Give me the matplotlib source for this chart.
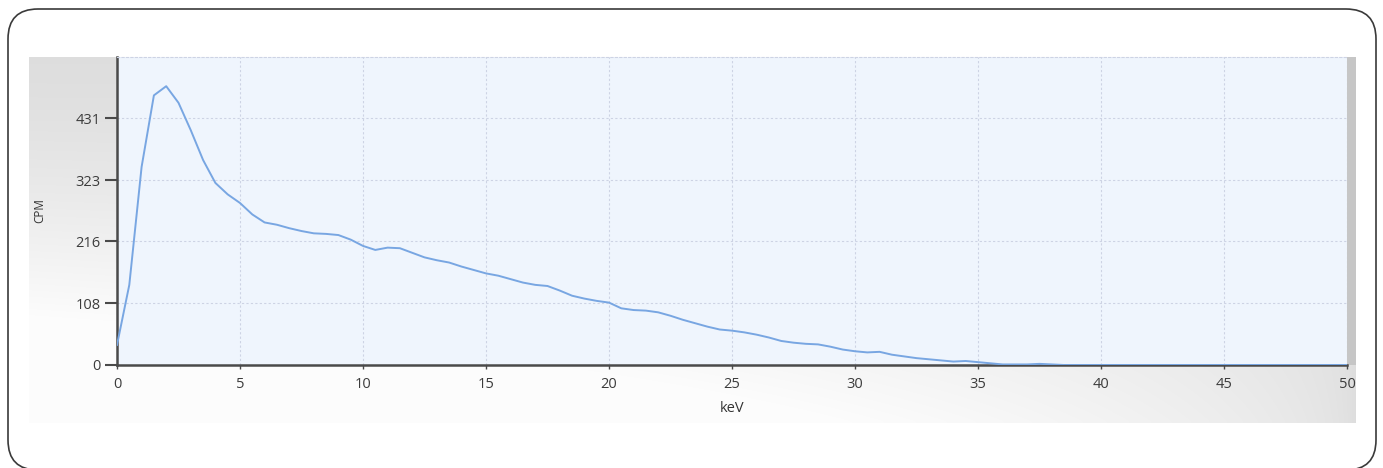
import numpy as np
import matplotlib.pyplot as plt
from matplotlib.patches import FancyBboxPatch, Rectangle
from matplotlib.ticker import MultipleLocator

# spectre mesure : energie (keV) et comptage (CPM)
energie_kev = [
    0.0, 0.5, 1.0, 1.5, 2.0, 2.5, 3.0, 3.5, 4.0, 4.5,
    5.0, 5.5, 6.0, 6.5, 7.0, 7.5, 8.0, 8.5, 9.0, 9.5,
    10.0, 10.5, 11.0, 11.5, 12.0, 12.5, 13.0, 13.5, 14.0, 14.5,
    15.0, 15.5, 16.0, 16.5, 17.0, 17.5, 18.0, 18.5, 19.0, 19.5,
    20.0, 20.5, 21.0, 21.5, 22.0, 22.5, 23.0, 23.5, 24.0, 24.5,
    25.0, 25.5, 26.0, 26.5, 27.0, 27.5, 28.0, 28.5, 29.0, 29.5,
    30.0, 30.5, 31.0, 31.5, 32.0, 32.5, 33.0, 33.5, 34.0, 34.5,
    35.0, 35.5, 36.0, 36.5, 37.0, 37.5, 38.0, 38.5, 39.0, 40.0,
    42.0, 44.0, 46.0, 48.0, 50.0,
]
cpm = [
    35, 140, 346, 471, 487, 458, 410, 358, 318, 298,
    283, 263, 249, 245, 239, 234, 230, 229, 227, 219,
    208, 201, 205, 204, 196, 188, 183, 179, 172, 166,
    160, 156, 150, 144, 140, 138, 130, 121, 116, 112,
    109, 99, 96, 95, 92, 86, 79, 73, 67, 62,
    60, 57, 53, 48, 42, 39, 37, 36, 32, 27,
    24, 22, 23, 18, 15, 12, 10, 8, 6, 7,
    5, 3, 1, 1, 1, 2, 1, 0, 0, 0,
    0, 0, 0, 0, 0,
]

y_ticks = [0, 108, 216, 323, 431]
y_max = 538


def main():
    W, H = 1383, 468
    fig = plt.figure(figsize=(W / 100, H / 100), dpi=100)
    plt.rcParams['font.family'] = ['Open Sans', 'DejaVu Sans']

    # fond en coordonnees pixels pour le cadre et le panneau gris
    bg = fig.add_axes([0, 0, 1, 1])
    bg.set_xlim(0, W)
    bg.set_ylim(H, 0)
    bg.axis("off")

    # cadre arrondi, le bas sort un peu de l'image
    cadre = FancyBboxPatch((8, 9), 1368, 461,
                           boxstyle="round,pad=0,rounding_size=30",
                           facecolor="white", edgecolor="#3a3a3a", lw=1.2)
    bg.add_patch(cadre)

    # degrade gris -> blanc (blanc en bas a gauche)
    u = np.linspace(0, 1, 300)[None, :]
    v = np.linspace(0, 1, 120)[:, None]
    blanc = np.clip(1.6 * v ** 1.4 * (1 - u) ** 0.5, 0, 1)
    gris = 0.87 + (0.99 - 0.87) * blanc
    img = np.dstack([gris, gris, gris])
    bg.imshow(img, extent=(29, 1356, 423, 57), aspect="auto",
              interpolation="bicubic", zorder=1)

    # petite barre grise a droite
    bg.add_patch(Rectangle((1347, 57), 9, 308, facecolor="#c6c6c6",
                           edgecolor="none", zorder=2))

    ax = fig.add_axes([117 / W, 1 - 365 / H, 1230 / W, 308 / H])
    ax.set_facecolor("#eff5fd")
    ax.plot(energie_kev, cpm, color="#78a6e2", lw=1.4, zorder=3)

    ax.set_xlim(0, 50)
    ax.set_ylim(0, y_max)
    ax.xaxis.set_major_locator(MultipleLocator(5))
    ax.set_yticks(y_ticks)

    ax.grid(True, color="#cdd3e4", linestyle=(0, (2, 2)), lw=0.8)
    ax.set_axisbelow(True)

    for side in ["left", "bottom"]:
        ax.spines[side].set_color("#4a4a4a")
        ax.spines[side].set_linewidth(1.8)
    ax.spines["right"].set_visible(False)
    ax.spines["top"].set_color("#cdd3e4")
    ax.spines["top"].set_linestyle((0, (2, 2)))
    ax.spines["top"].set_linewidth(0.8)

    ax.tick_params(axis="y", length=9, width=1.5, color="#4a4a4a",
                   labelsize=10.5, labelcolor="#3c3c3c", pad=3)
    ax.tick_params(axis="x", length=3, width=1, color="#4a4a4a",
                   labelsize=10.5, labelcolor="#3c3c3c", pad=6)

    ax.set_xlabel("keV", fontsize=10.5, color="#333333", labelpad=6)
    fig.text(40 / W, 1 - 211 / H, "CPM", rotation=90, fontsize=8.5,
             color="#333333", ha="center", va="center")

    fig.savefig("out.png", dpi=100)


if __name__ == "__main__":
    main()
